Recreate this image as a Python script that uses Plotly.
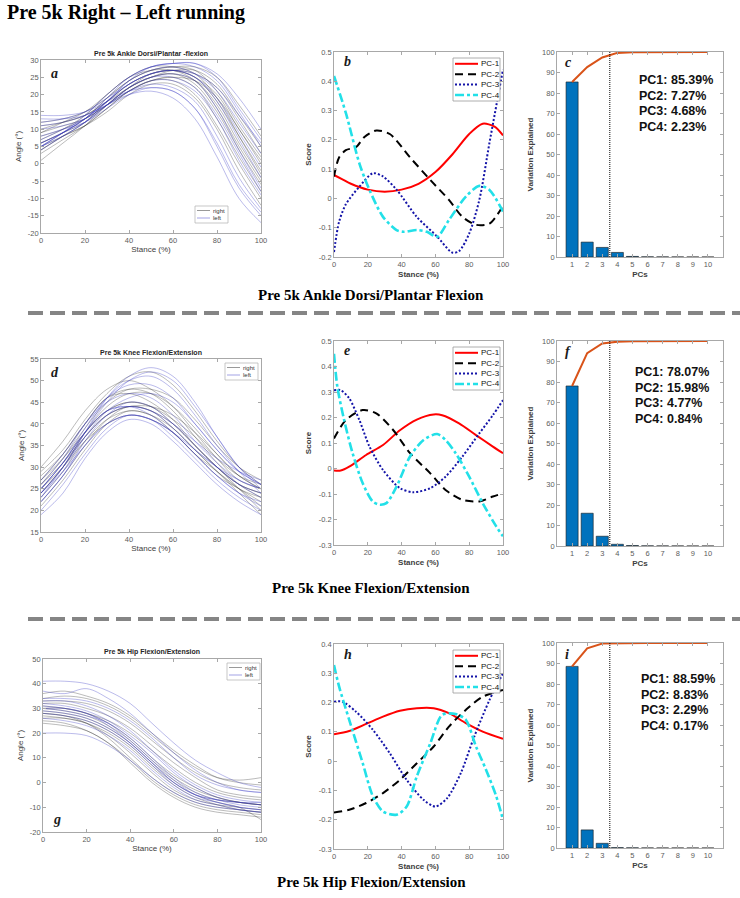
import plotly.graph_objects as go
import numpy as np

W, H = 740, 898

# ---------------------------------------------------------------- data
stance = [0, 10, 20, 30, 40, 50, 60, 70, 80, 90, 100]

ankle_right = [
    [4, 8, 12, 18, 23, 26, 27, 25, 18, 8, -2],
    [6, 9, 13, 19, 24, 27, 28, 27, 21, 11, 2],
    [8, 10, 13, 17, 22, 25, 26, 23, 15, 4, -6],
    [10, 12, 14, 18, 22, 25, 27, 27, 23, 14, 5],
    [5, 8, 11, 16, 21, 24, 25, 22, 13, 2, -8],
    [12, 13, 15, 19, 24, 27, 28, 28, 25, 17, 8],
    [7, 10, 14, 20, 25, 28, 28, 26, 19, 8, -3],
    [3, 7, 11, 16, 21, 24, 24, 20, 11, 0, -10],
    [9, 11, 13, 17, 21, 24, 25, 24, 19, 10, 0],
    [1, 6, 11, 17, 22, 25, 26, 24, 17, 6, -4],
    [11, 12, 14, 18, 23, 26, 27, 26, 22, 13, 3],
    [6, 9, 12, 17, 22, 26, 27, 25, 20, 10, 1],
    [4, 8, 11, 15, 20, 23, 23, 19, 10, -2, -12],
    [9, 12, 15, 20, 25, 27, 27, 24, 16, 5, -5],
]
ankle_left = [
    [5, 9, 13, 19, 25, 28, 29, 29, 25, 16, 7],
    [6, 9, 13, 18, 23, 26, 27, 25, 18, 7, -4],
    [13, 13, 14, 17, 20, 21, 19, 13, 2, -10, -17],
    [14, 14, 15, 18, 21, 22, 21, 16, 5, -7, -15],
    [5, 9, 14, 20, 25, 28, 29, 28, 24, 15, 5],
    [7, 10, 13, 18, 23, 26, 27, 25, 19, 9, -1],
    [11, 12, 14, 17, 21, 23, 22, 18, 8, -4, -13],
    [4, 8, 12, 18, 24, 27, 28, 26, 21, 12, 3],
    [10, 11, 13, 17, 21, 24, 24, 21, 13, 1, -9],
    [6, 9, 12, 17, 22, 25, 26, 24, 16, 4, -7],
    [12, 13, 15, 19, 23, 26, 27, 26, 22, 14, 6],
    [5, 9, 13, 18, 24, 28, 29, 29, 26, 19, 10],
    [8, 10, 12, 16, 20, 22, 21, 16, 6, -6, -14],
    [5, 8, 12, 17, 22, 25, 25, 22, 14, 3, -8],
]

knee_right = [
    [28, 33, 40, 46, 48, 47, 43, 37, 31, 26, 23],
    [25, 31, 38, 43, 45, 44, 40, 35, 30, 26, 24],
    [30, 36, 43, 48, 50, 48, 44, 38, 32, 27, 25],
    [23, 29, 36, 41, 43, 42, 38, 33, 28, 25, 22],
    [26, 32, 39, 45, 48, 48, 46, 41, 35, 30, 27],
    [22, 28, 35, 41, 44, 43, 40, 35, 30, 25, 20],
    [27, 32, 38, 43, 45, 44, 41, 37, 32, 28, 26],
    [24, 30, 37, 42, 44, 43, 39, 34, 29, 25, 23],
    [29, 34, 41, 47, 51, 52, 49, 43, 36, 30, 26],
    [25, 30, 36, 40, 42, 41, 38, 33, 29, 25, 21],
    [27, 33, 40, 46, 47, 45, 41, 35, 30, 26, 24],
    [21, 27, 34, 40, 43, 42, 39, 34, 29, 24, 19],
    [26, 31, 37, 42, 44, 44, 42, 38, 33, 28, 25],
    [24, 30, 38, 44, 47, 47, 44, 39, 33, 28, 25],
]
knee_left = [
    [24, 30, 38, 46, 51, 53, 51, 45, 37, 30, 26],
    [19, 24, 32, 38, 41, 40, 36, 31, 26, 22, 19],
    [25, 31, 38, 43, 44, 43, 39, 34, 30, 27, 25],
    [23, 29, 37, 43, 46, 47, 45, 40, 34, 29, 26],
    [26, 32, 40, 46, 49, 49, 46, 40, 34, 29, 26],
    [22, 28, 35, 40, 42, 41, 37, 32, 27, 23, 20],
    [25, 31, 38, 43, 44, 42, 38, 33, 28, 24, 22],
    [23, 30, 38, 45, 50, 52, 50, 44, 37, 30, 25],
    [24, 29, 35, 40, 42, 41, 38, 34, 30, 26, 24],
    [27, 33, 40, 45, 47, 46, 42, 36, 31, 27, 25],
    [22, 28, 36, 42, 45, 44, 40, 35, 30, 26, 23],
    [24, 30, 37, 42, 44, 43, 40, 36, 32, 29, 27],
    [20, 26, 33, 39, 42, 41, 38, 33, 28, 24, 21],
    [25, 31, 39, 46, 50, 51, 48, 42, 35, 29, 24],
]

hip_right = [
    [28, 27, 24, 18, 10, 2, -4, -8, -10, -11, -12],
    [25, 24, 21, 16, 8, 0, -6, -10, -12, -13, -14],
    [31, 30, 28, 24, 18, 10, 3, -2, -6, -8, -9],
    [33, 33, 32, 29, 24, 17, 10, 4, 0, -2, -3],
    [27, 26, 24, 19, 12, 4, -3, -7, -9, -10, -11],
    [30, 29, 27, 23, 17, 9, 2, -3, -6, -8, -9],
    [36, 37, 35, 32, 27, 20, 13, 7, 2, 0, -1],
    [24, 23, 21, 16, 9, 1, -5, -9, -11, -12, -13],
    [29, 28, 26, 22, 16, 8, 1, -4, -7, -8, -9],
    [26, 26, 24, 20, 14, 6, -1, -6, -9, -11, -12],
    [32, 32, 30, 27, 22, 15, 8, 2, -3, -5, -6],
    [34, 35, 34, 31, 26, 19, 12, 6, 2, 1, 2],
    [28, 27, 25, 21, 15, 7, 0, -5, -8, -10, -15],
    [30, 30, 28, 25, 20, 13, 6, 0, -4, -6, -7],
]
hip_left = [
    [41, 41, 40, 37, 32, 24, 16, 9, 4, 0, -2],
    [20, 20, 19, 15, 9, 2, -4, -8, -10, -11, -12],
    [37, 36, 38, 34, 28, 20, 12, 5, 0, -3, -4],
    [31, 30, 28, 24, 17, 9, 1, -5, -8, -10, -11],
    [29, 28, 26, 22, 16, 8, 0, -5, -7, -8, -9],
    [33, 33, 31, 27, 21, 13, 5, -1, -5, -7, -8],
    [30, 29, 27, 24, 18, 10, 2, -4, -7, -9, -10],
    [26, 25, 23, 19, 13, 5, -2, -7, -9, -11, -12],
    [32, 31, 29, 25, 19, 12, 4, -2, -6, -8, -9],
    [28, 27, 25, 21, 15, 7, -1, -6, -8, -10, -11],
    [34, 34, 33, 30, 25, 18, 10, 3, -1, -3, -4],
    [30, 30, 28, 23, 16, 8, 0, -5, -7, -8, -8],
]

# PC loading curves (stance %, score)
ankle_pc1_x = [0, 5, 10, 20, 30, 40, 50, 60, 70, 80, 88, 95, 100]
ankle_pc1_y = [0.08, 0.065, 0.05, 0.03, 0.023, 0.03, 0.05, 0.09, 0.15, 0.22, 0.255, 0.245, 0.215]
ankle_pc2_x = [0, 3, 7, 13, 18, 25, 33, 45, 57, 68, 76, 84, 92, 100]
ankle_pc2_y = [0.075, 0.14, 0.165, 0.175, 0.21, 0.232, 0.22, 0.14, 0.063, -0.005, -0.063, -0.09, -0.086, -0.025]
ankle_pc3_x = [0, 3, 7, 15, 23, 29, 37, 49, 61, 70, 74, 80, 86, 92, 100]
ankle_pc3_y = [-0.183, -0.08, -0.02, 0.04, 0.086, 0.075, 0.03, -0.063, -0.13, -0.185, -0.18, -0.12, -0.005, 0.19, 0.44]
ankle_pc4_x = [0, 7, 15, 21, 29, 37, 41, 49, 55, 61, 68, 78, 86, 92, 100]
ankle_pc4_y = [0.418, 0.292, 0.12, 0.029, -0.063, -0.108, -0.114, -0.108, -0.114, -0.131, -0.074, 0.006, 0.043, 0.029, -0.045]

knee_pc1_x = [0, 4, 9, 19, 29, 39, 49, 59, 64, 74, 84, 94, 100]
knee_pc1_y = [-0.008, -0.008, 0.007, 0.053, 0.092, 0.15, 0.192, 0.212, 0.209, 0.177, 0.131, 0.086, 0.06]
knee_pc2_x = [0, 7, 17, 25, 35, 45, 57, 66, 76, 86, 94, 100]
knee_pc2_y = [0.118, 0.19, 0.229, 0.216, 0.151, 0.06, -0.019, -0.084, -0.123, -0.129, -0.11, -0.097]
knee_pc3_x = [0, 4, 9, 15, 21, 29, 39, 47, 57, 66, 76, 86, 94, 100]
knee_pc3_y = [0.307, 0.307, 0.275, 0.19, 0.086, -0.006, -0.077, -0.093, -0.077, -0.032, 0.047, 0.138, 0.209, 0.268]
knee_pc4_x = [0, 2, 6, 11, 17, 23, 27, 31, 37, 45, 53, 61, 66, 72, 80, 88, 96, 100]
knee_pc4_y = [0.45, 0.32, 0.19, 0.06, -0.058, -0.13, -0.142, -0.136, -0.071, 0.047, 0.112, 0.135, 0.112, 0.06, -0.032, -0.136, -0.227, -0.266]

hip_pc1_x = [0, 9, 19, 29, 39, 49, 59, 68, 78, 88, 100]
hip_pc1_y = [0.092, 0.103, 0.127, 0.152, 0.172, 0.181, 0.181, 0.164, 0.13, 0.101, 0.076]
hip_pc2_x = [0, 9, 19, 29, 39, 49, 59, 68, 78, 88, 100]
hip_pc2_y = [-0.175, -0.166, -0.143, -0.109, -0.064, -0.007, 0.05, 0.118, 0.175, 0.22, 0.243]
hip_pc3_x = [0, 5, 13, 23, 33, 43, 53, 60, 67, 75, 83, 92, 100]
hip_pc3_y = [0.203, 0.203, 0.169, 0.107, 0.027, -0.064, -0.132, -0.155, -0.126, -0.041, 0.084, 0.209, 0.3]
hip_pc4_x = [0, 3, 9, 17, 23, 29, 37, 43, 49, 57, 64, 72, 78, 84, 90, 96, 100]
hip_pc4_y = [0.328, 0.255, 0.141, -0.007, -0.12, -0.172, -0.183, -0.155, -0.052, 0.061, 0.158, 0.161, 0.141, 0.05, -0.03, -0.12, -0.2]

# Variance explained (%)
pcs = [1, 2, 3, 4, 5, 6, 7, 8, 9, 10]
ankle_var = [85.39, 7.27, 4.68, 2.23, 0.28, 0.08, 0.04, 0.02, 0.01, 0.0]
knee_var = [78.07, 15.98, 4.77, 0.84, 0.22, 0.07, 0.03, 0.02, 0.0, 0.0]
hip_var = [88.59, 8.83, 2.29, 0.17, 0.08, 0.02, 0.01, 0.01, 0.0, 0.0]
pc_cutoff = 3.5

main_title = "Pre 5k Right \u2013 Left running"
captions = ["Pre 5k Ankle Dorsi/Plantar Flexion", "Pre 5k Knee Flexion/Extension",
            "Pre 5k Hip Flexion/Extension"]
joint_titles = ["Pre 5k Ankle Dorsi/Plantar -flexion", "Pre 5k Knee Flexion/Extension",
                "Pre 5k Hip Flexion/Extension"]
pc_names = ["PC-1", "PC-2", "PC-3", "PC-4"]

stance_ticks = [0, 20, 40, 60, 80, 100]
ankle_yticks = [-20, -15, -10, -5, 0, 5, 10, 15, 20, 25, 30]
knee_yticks = [15, 20, 25, 30, 35, 40, 45, 50, 55]
hip_yticks = [-20, -10, 0, 10, 20, 30, 40, 50]
b_yticks = [-0.2, -0.1, 0, 0.1, 0.2, 0.3, 0.4, 0.5]
e_yticks = [-0.3, -0.2, -0.1, 0, 0.1, 0.2, 0.3, 0.4, 0.5]
h_yticks = [-0.3, -0.2, -0.1, 0, 0.1, 0.2, 0.3, 0.4]
var_yticks = [0, 10, 20, 30, 40, 50, 60, 70, 80, 90, 100]

# ---------------------------------------------------------------- layout helpers
SANS = "Arial, Liberation Sans, sans-serif"
SERIF = "Times New Roman, Liberation Serif, serif"
RIGHT_COL = "rgba(40,40,40,0.40)"
LEFT_COL = "rgba(50,50,195,0.42)"
PC_STYLES = [
    dict(color="#ff0000", width=2, dash="solid"),
    dict(color="#000000", width=2, dash="8px,5px"),
    dict(color="#1414a8", width=2, dash="2px,2px"),
    dict(color="#22e0e8", width=2.6, dash="9px,3px,3px,3px"),
]

# panel boxes in pixels: (left, top, right, bottom)
BOX = {
    1: (41, 60, 261, 233), 2: (334, 52, 503, 257), 3: (557, 52, 723, 257),
    4: (41, 359, 261, 532), 5: (334, 341, 503, 545), 6: (557, 341, 723, 546),
    7: (43, 659, 261, 832), 8: (334, 644, 503, 849), 9: (557, 643, 723, 848),
}


def px(x):
    return x / W


def py(y):
    return 1 - y / H


def ax_ids(n):
    s = "" if n == 1 else str(n)
    return "x" + s, "y" + s, "xaxis" + s, "yaxis" + s


def fmt(v):
    return "%g" % v


fig = go.Figure()
layout_axes = {}
annotations = []
shapes = []


def setup_axes(n, xr, yr, xt, yt, xtitle, ytitle, bold, ystand, xstand):
    xi, yi, xn, yn = ax_ids(n)
    l, t, r, b = BOX[n]
    base = dict(showline=True, linecolor="#a8a8a8", linewidth=0.8, mirror="ticks",
                ticks="inside", ticklen=3, tickwidth=0.7, tickcolor="#a8a8a8",
                showgrid=False, zeroline=False, automargin=False, fixedrange=True,
                tickfont=dict(family=SANS, size=7.5, color="#5c5c5c"))
    tfont = dict(family=SANS, size=8, color="#404040", weight="bold" if bold else "normal")
    layout_axes[xn] = dict(base, domain=[px(l), px(r)], range=xr, anchor=yi,
                           tickvals=xt, ticktext=[fmt(v) for v in xt],
                           title=dict(text=xtitle, font=tfont, standoff=xstand))
    layout_axes[yn] = dict(base, domain=[py(b), py(t)], range=yr, anchor=xi,
                           tickvals=yt, ticktext=[fmt(v) for v in yt],
                           title=dict(text=ytitle, font=tfont, standoff=ystand))


def letter(n, ch, xoff, yoff):
    l, t, r, b = BOX[n]
    annotations.append(dict(xref="paper", yref="paper", x=px(l + xoff), y=py(t + yoff),
                            text=ch, showarrow=False, xanchor="left", yanchor="middle",
                            font=dict(family=SERIF, size=14, color="#1a1a1a",
                                      weight="bold", style="italic")))


def joint_panel(n, right, left, yr, yt, title, ch, legend_pos, letter_pos):
    xi, yi, _, _ = ax_ids(n)
    for c in right:
        fig.add_trace(go.Scatter(x=stance, y=c, mode="lines", xaxis=xi, yaxis=yi,
                                 line=dict(color=RIGHT_COL, width=0.8, shape="spline"),
                                 hoverinfo="skip"))
    for c in left:
        fig.add_trace(go.Scatter(x=stance, y=c, mode="lines", xaxis=xi, yaxis=yi,
                                 line=dict(color=LEFT_COL, width=0.8, shape="spline"),
                                 hoverinfo="skip"))
    setup_axes(n, [0, 100], yr, stance_ticks, yt, "Stance (%)", "Angle (\u00b0)", False, 4, 2)
    l, t, r, b = BOX[n]
    annotations.append(dict(xref="paper", yref="paper", x=px((l + r) / 2), y=py(t - 1),
                            text=title, showarrow=False, xanchor="center", yanchor="bottom",
                            font=dict(family=SANS, size=7, color="#262626", weight="bold")))
    x0, y0 = legend_pos
    x1, y1 = x0 + 33, y0 + 17
    shapes.append(dict(type="rect", xref="paper", yref="paper", x0=px(x0), x1=px(x1),
                       y0=py(y0), y1=py(y1), line=dict(color="#b0b0b0", width=0.7),
                       fillcolor="white", layer="above"))
    for i, (lab, col) in enumerate([("right", "rgba(40,40,40,0.6)"), ("left", "rgba(60,60,200,0.6)")]):
        yy = y0 + 4.5 + i * 7.5
        shapes.append(dict(type="line", xref="paper", yref="paper", x0=px(x0 + 2), x1=px(x0 + 15),
                           y0=py(yy), y1=py(yy), line=dict(color=col, width=0.8), layer="above"))
        annotations.append(dict(xref="paper", yref="paper", x=px(x0 + 16), y=py(yy), text=lab,
                                showarrow=False, xanchor="left", yanchor="middle",
                                font=dict(family=SANS, size=6, color="#333333")))
    letter(n, ch, *letter_pos)


def pc_panel(n, curves, yr, yt, ch):
    xi, yi, _, _ = ax_ids(n)
    for (cx, cy), st in zip(curves, PC_STYLES):
        fig.add_trace(go.Scatter(x=cx, y=cy, mode="lines", xaxis=xi, yaxis=yi,
                                 line=dict(color=st["color"], width=st["width"], dash=st["dash"],
                                           shape="spline", smoothing=0.8),
                                 hoverinfo="skip"))
    setup_axes(n, [0, 100], yr, stance_ticks, yt, "Stance (%)", "Score", True, 5, 3)
    l, t, r, b = BOX[n]
    x1, y0 = r - 3, t + 6
    x0, y1 = x1 - 47, y0 + 43
    shapes.append(dict(type="rect", xref="paper", yref="paper", x0=px(x0), x1=px(x1),
                       y0=py(y0), y1=py(y1), line=dict(color="#9a9a9a", width=0.8),
                       fillcolor="white", layer="above"))
    for i, (name, st) in enumerate(zip(pc_names, PC_STYLES)):
        yy = y0 + 5.8 + i * 10.4
        shapes.append(dict(type="line", xref="paper", yref="paper", x0=px(x0 + 2), x1=px(x0 + 25),
                           y0=py(yy), y1=py(yy), layer="above",
                           line=dict(color=st["color"], width=st["width"], dash=st["dash"])))
        annotations.append(dict(xref="paper", yref="paper", x=px(x0 + 25.5), y=py(yy), text=name,
                                showarrow=False, xanchor="left", yanchor="middle",
                                font=dict(family=SANS, size=8, color="#111111")))
    letter(n, ch, 8, 10)


def var_panel(n, var, ch, text_pos):
    xi, yi, _, _ = ax_ids(n)
    fig.add_trace(go.Bar(x=pcs, y=var, xaxis=xi, yaxis=yi, width=0.8,
                         marker=dict(color="#0072BD", line=dict(color="#1a1a1a", width=0.6)),
                         hoverinfo="skip"))
    fig.add_trace(go.Scatter(x=pcs, y=np.cumsum(var), mode="lines", xaxis=xi, yaxis=yi,
                             line=dict(color="#D95319", width=2), hoverinfo="skip"))
    fig.add_trace(go.Scatter(x=[pc_cutoff, pc_cutoff], y=[0, 100], mode="lines", xaxis=xi, yaxis=yi,
                             line=dict(color="#000000", width=1, dash="1px,1px"), hoverinfo="skip"))
    setup_axes(n, [0, 11], [0, 100], pcs, var_yticks, "PCs", "Variation Explained", True, 7, 3)
    tx, ty = text_pos
    for i in range(4):
        annotations.append(dict(xref="paper", yref="paper", x=px(tx), y=py(ty + i * 15.6),
                                text="PC%d: %.2f%%" % (i + 1, var[i]), showarrow=False,
                                xanchor="left", yanchor="middle",
                                font=dict(family=SANS, size=12.5, color="#111111", weight="bold")))
    letter(n, ch, 6, 11)


# ---------------------------------------------------------------- build panels
joint_panel(1, ankle_right, ankle_left, [-20, 30], ankle_yticks, joint_titles[0], "a",
            (195, 206), (8, 13))
pc_panel(2, [(ankle_pc1_x, ankle_pc1_y), (ankle_pc2_x, ankle_pc2_y),
             (ankle_pc3_x, ankle_pc3_y), (ankle_pc4_x, ankle_pc4_y)], [-0.2, 0.5], b_yticks, "b")
var_panel(3, ankle_var, "c", (637, 80))

joint_panel(4, knee_right, knee_left, [15, 55], knee_yticks, joint_titles[1], "d",
            (225, 363), (8, 13))
pc_panel(5, [(knee_pc1_x, knee_pc1_y), (knee_pc2_x, knee_pc2_y),
             (knee_pc3_x, knee_pc3_y), (knee_pc4_x, knee_pc4_y)], [-0.3, 0.5], e_yticks, "e")
var_panel(6, knee_var, "f", (633, 372))

joint_panel(7, hip_right, hip_left, [-20, 50], hip_yticks, joint_titles[2], "g",
            (227, 663), (8, 160))
pc_panel(8, [(hip_pc1_x, hip_pc1_y), (hip_pc2_x, hip_pc2_y),
             (hip_pc3_x, hip_pc3_y), (hip_pc4_x, hip_pc4_y)], [-0.3, 0.4], h_yticks, "h")
var_panel(9, hip_var, "i", (639, 679))

# ---------------------------------------------------------------- titles, captions, separators
annotations.append(dict(xref="paper", yref="paper", x=px(5), y=py(13), text=main_title,
                        showarrow=False, xanchor="left", yanchor="middle",
                        font=dict(family=SERIF, size=20, color="#000000", weight="bold")))
for txt, yy in zip(captions, [295, 588, 882]):
    annotations.append(dict(xref="paper", yref="paper", x=px(371), y=py(yy), text=txt,
                            showarrow=False, xanchor="center", yanchor="middle",
                            font=dict(family=SERIF, size=15, color="#000000", weight="bold")))
for yy in [313, 619]:
    shapes.append(dict(type="line", xref="paper", yref="paper", x0=px(28), x1=px(740),
                       y0=py(yy), y1=py(yy), line=dict(color="#858585", width=4, dash="15px,7px")))

fig.update_layout(width=W, height=H, margin=dict(l=0, r=0, t=0, b=0),
                  paper_bgcolor="white", plot_bgcolor="white", showlegend=False,
                  bargap=0.2, annotations=annotations, shapes=shapes, **layout_axes)

fig.write_html("out.html", config={"displayModeBar": False},
               post_script="document.body.style.margin='0px';")
